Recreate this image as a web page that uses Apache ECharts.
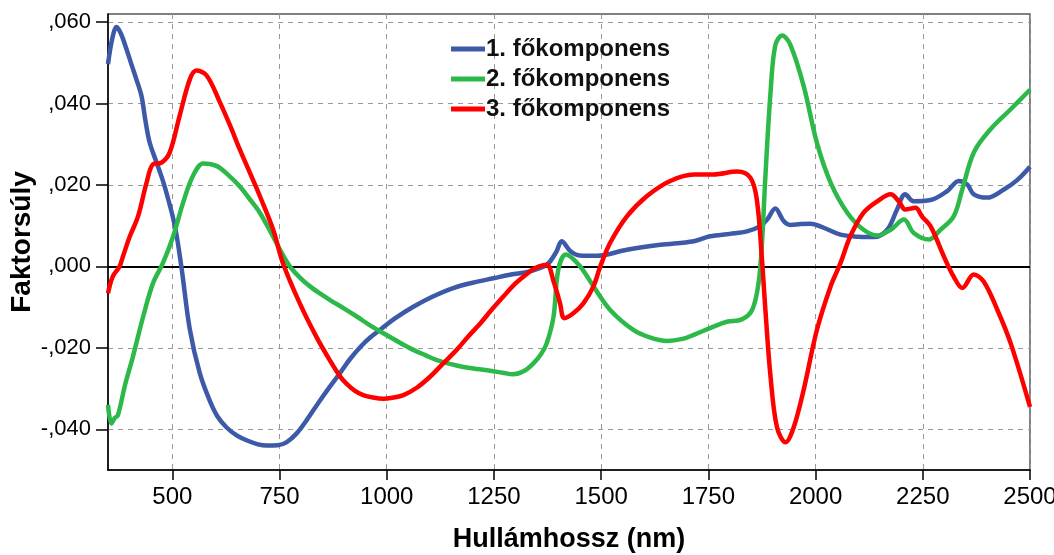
<!DOCTYPE html>
<html>
<head>
<meta charset="utf-8">
<script src="https://cdn.jsdelivr.net/npm/echarts@6/dist/echarts.min.js"></script>
<style>
  html, body { margin: 0; padding: 0; background: #fff; }
  #chart { width: 1054px; height: 555px; }
</style>
</head>
<body>
<div id="chart"></div>
<script>
// Axis ticks
const xTicks = [500, 750, 1000, 1250, 1500, 1750, 2000, 2250, 2500];
const yTicks = [-0.04, -0.02, 0, 0.02, 0.04, 0.06];

// Series names
const seriesNames = ['1. főkomponens', '2. főkomponens', '3. főkomponens'];

// 1. főkomponens: wavelength (nm) and loading
const wl1 = [350, 360, 370, 380, 393, 405, 416, 428, 437, 447, 463, 475, 486, 506, 521, 541, 564, 587, 605, 626, 650, 673, 700, 720, 745, 766, 790, 813, 840, 867, 891, 914, 940, 962, 984, 1020, 1062, 1105, 1155, 1200, 1249, 1290, 1334, 1373, 1395, 1408, 1428, 1450, 1490, 1560, 1638, 1716, 1754, 1800, 1840, 1871, 1887, 1906, 1926, 1941, 1965, 1988, 2019, 2058, 2100, 2136, 2167, 2190, 2209, 2229, 2268, 2307, 2334, 2354, 2369, 2400, 2439, 2470, 2500];
const pc1 = [0.0497, 0.0560, 0.0588, 0.0572, 0.0534, 0.0495, 0.0460, 0.0419, 0.0360, 0.0305, 0.0256, 0.0220, 0.0182, 0.0099, 0.0000, -0.0156, -0.0262, -0.0329, -0.0368, -0.0395, -0.0415, -0.0427, -0.0437, -0.0440, -0.0439, -0.0432, -0.0410, -0.0378, -0.0336, -0.0296, -0.0262, -0.0228, -0.0196, -0.0174, -0.0156, -0.0127, -0.0099, -0.0075, -0.0053, -0.0040, -0.0029, -0.0020, -0.0012, 0.0004, 0.0035, 0.0062, 0.0038, 0.0027, 0.0026, 0.0041, 0.0053, 0.0062, 0.0074, 0.0080, 0.0086, 0.0099, 0.0115, 0.0142, 0.0111, 0.0102, 0.0104, 0.0105, 0.0095, 0.0078, 0.0073, 0.0072, 0.0090, 0.0140, 0.0177, 0.0160, 0.0163, 0.0185, 0.0210, 0.0201, 0.0177, 0.0169, 0.0189, 0.0212, 0.0245];

// 2. főkomponens
const wl2 = [350, 358, 366, 373, 390, 408, 432, 455, 478, 502, 525, 548, 572, 603, 630, 657, 680, 704, 728, 751, 774, 798, 821, 845, 867, 900, 930, 960, 992, 1030, 1062, 1090, 1117, 1150, 1179, 1210, 1241, 1270, 1295, 1320, 1342, 1360, 1373, 1389, 1400, 1418, 1451, 1482, 1521, 1575, 1615, 1653, 1690, 1716, 1762, 1793, 1828, 1852, 1867, 1875, 1883, 1895, 1906, 1922, 1941, 1972, 2003, 2035, 2074, 2112, 2144, 2175, 2206, 2229, 2264, 2291, 2322, 2342, 2369, 2408, 2455, 2500];
const pc2 = [-0.0340, -0.0386, -0.0372, -0.0366, -0.0290, -0.0222, -0.0123, -0.0041, 0.0008, 0.0074, 0.0156, 0.0222, 0.0253, 0.0247, 0.0225, 0.0197, 0.0166, 0.0132, 0.0087, 0.0041, 0.0000, -0.0028, -0.0049, -0.0067, -0.0082, -0.0103, -0.0123, -0.0144, -0.0164, -0.0187, -0.0205, -0.0218, -0.0230, -0.0240, -0.0247, -0.0252, -0.0256, -0.0261, -0.0265, -0.0257, -0.0238, -0.0215, -0.0189, -0.0123, -0.0008, 0.0029, 0.0000, -0.0049, -0.0107, -0.0156, -0.0175, -0.0183, -0.0178, -0.0168, -0.0148, -0.0136, -0.0130, -0.0107, -0.0041, 0.0058, 0.0222, 0.0428, 0.0543, 0.0567, 0.0545, 0.0444, 0.0304, 0.0206, 0.0132, 0.0090, 0.0076, 0.0090, 0.0115, 0.0082, 0.0066, 0.0090, 0.0123, 0.0189, 0.0280, 0.0337, 0.0386, 0.0434];

// 3. főkomponens
const wl3 = [350, 361, 377, 385, 401, 420, 440, 455, 475, 494, 517, 541, 556, 580, 611, 635, 657, 680, 704, 735, 758, 797, 836, 867, 891, 906, 925, 945, 968, 992, 1015, 1039, 1070, 1101, 1130, 1163, 1190, 1218, 1245, 1272, 1295, 1319, 1340, 1355, 1373, 1390, 1404, 1414, 1435, 1459, 1482, 1498, 1521, 1560, 1607, 1661, 1716, 1762, 1817, 1848, 1863, 1875, 1883, 1895, 1910, 1930, 1949, 1972, 2003, 2035, 2058, 2081, 2112, 2144, 2175, 2194, 2209, 2233, 2248, 2268, 2299, 2322, 2342, 2369, 2392, 2424, 2455, 2500];
const pc3 = [-0.0066, -0.0025, 0.0000, 0.0025, 0.0074, 0.0123, 0.0206, 0.0251, 0.0255, 0.0280, 0.0370, 0.0460, 0.0481, 0.0469, 0.0403, 0.0345, 0.0288, 0.0232, 0.0173, 0.0091, 0.0008, -0.0090, -0.0173, -0.0230, -0.0270, -0.0288, -0.0305, -0.0316, -0.0322, -0.0325, -0.0322, -0.0316, -0.0298, -0.0271, -0.0240, -0.0205, -0.0172, -0.0140, -0.0106, -0.0074, -0.0047, -0.0025, -0.0008, 0.0000, 0.0004, -0.0040, -0.0090, -0.0127, -0.0115, -0.0090, -0.0049, 0.0000, 0.0058, 0.0123, 0.0173, 0.0210, 0.0226, 0.0226, 0.0233, 0.0218, 0.0164, 0.0017, -0.0107, -0.0271, -0.0395, -0.0432, -0.0395, -0.0304, -0.0156, -0.0049, 0.0008, 0.0074, 0.0132, 0.0160, 0.0177, 0.0160, 0.0140, 0.0144, 0.0123, 0.0099, 0.0025, -0.0025, -0.0053, -0.0020, -0.0037, -0.0107, -0.0189, -0.0345];

const colors = ['#3d5aa8', '#2db84a', '#ff0000'];
const pairs = (xs, ys) => xs.map((x, i) => [x, ys[i]]);

// Loadings written as ",060" / "-,020"
const fmtLoading = v => {
  const n = Math.round(Math.abs(v) * 1000);
  return (v < -1e-9 ? '-' : '') + ',' + String(n).padStart(3, '0');
};

const FONT = '"Liberation Sans", Arial, sans-serif';

const chart = echarts.init(document.getElementById('chart'), null, { renderer: 'canvas' });

const lineSeries = (name, data, color, extra) => Object.assign({
  name, type: 'line', data,
  smooth: 0.35,
  showSymbol: false, symbol: 'none',
  lineStyle: { color, width: 4.5 },
  itemStyle: { color },
  z: 3
}, extra || {});

chart.setOption({
  animation: false,
  backgroundColor: '#fff',
  grid: {
    left: 108, right: 24, top: 14, bottom: 85,
    containLabel: false,
    outerBoundsMode: 'none',
    show: true, borderColor: '#555', borderWidth: 1.5
  },
  legend: {
    data: seriesNames,
    orient: 'vertical',
    left: 446, top: 32,
    icon: 'rect',
    itemWidth: 34, itemHeight: 5,
    itemGap: 6,
    textStyle: { fontFamily: FONT, fontSize: 24, fontWeight: 'bold', color: '#111', lineHeight: 24, padding: [0, 0, 0, -4] }
  },
  xAxis: {
    type: 'value', min: 350, max: 2500,
    name: 'Hullámhossz (nm)', nameLocation: 'middle', nameGap: 56, nameMoveOverlap: false,
    nameTextStyle: { fontFamily: FONT, fontSize: 27, fontWeight: 'bold', color: '#000' },
    axisLine: { show: true, onZero: false, lineStyle: { color: '#000', width: 1.5 } },
    axisTick: { show: true, length: 10, customValues: xTicks, lineStyle: { color: '#000', width: 1.5 } },
    axisLabel: { customValues: xTicks, margin: 15, fontFamily: FONT, fontSize: 24, color: '#000', formatter: v => String(v) },
    splitLine: { show: true, lineStyle: { color: '#999', type: [5, 5], width: 1 } }
  },
  yAxis: {
    type: 'value', min: -0.05, max: 0.062,
    name: 'Faktorsúly', nameLocation: 'middle', nameGap: 72, nameMoveOverlap: false,
    nameTextStyle: { fontFamily: FONT, fontSize: 28, fontWeight: 'bold', color: '#000' },
    axisLine: { show: true, onZero: false, lineStyle: { color: '#000', width: 1.5 } },
    axisTick: { show: true, length: 12, customValues: yTicks, lineStyle: { color: '#000', width: 1.5 } },
    axisLabel: { customValues: yTicks, margin: 17, fontFamily: FONT, fontSize: 22, color: '#000', formatter: fmtLoading },
    splitLine: { show: true, lineStyle: { color: '#999', type: [5, 5], width: 1 } }
  },
  series: [
    lineSeries(seriesNames[0], pairs(wl1, pc1), colors[0], {
      markLine: {
        silent: true, symbol: 'none', label: { show: false },
        lineStyle: { color: '#000', width: 2, type: 'solid' },
        data: [{ yAxis: 0 }],
        z: 2
      }
    }),
    lineSeries(seriesNames[1], pairs(wl2, pc2), colors[1]),
    lineSeries(seriesNames[2], pairs(wl3, pc3), colors[2])
  ]
});
</script>
</body>
</html>
